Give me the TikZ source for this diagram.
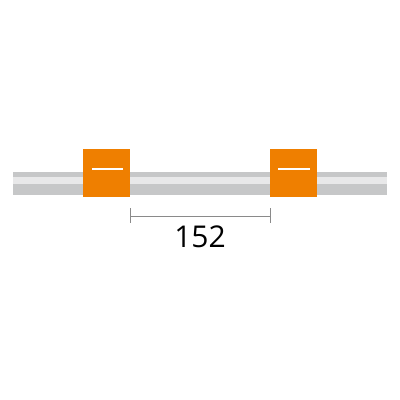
\documentclass[tikz,border=0pt]{standalone}
\usepackage{fontspec}
\setmainfont{Open Sans}
\definecolor{tubegray}{HTML}{C6C7C8}
\definecolor{tubelight}{HTML}{E8E8E9}
\definecolor{tagorange}{HTML}{EF7F00}
\definecolor{dimgray}{HTML}{8A8A8A}
\tikzset{
  tagbox/.style={fill=tagorange, draw=none, minimum width=47pt, minimum height=48pt, inner sep=0pt},
  tagline/.style={draw=white, line width=1.6pt},
  dimline/.style={draw=dimgray, line width=0.7pt}
}
\begin{document}
\begin{tikzpicture}[x=1pt,y=-1pt]
\useasboundingbox[fill=white] (0,0) rectangle (400,400);
% tube
\fill[tubegray] (13,172) rectangle (387,195);
\fill[tubelight] (13,177) rectangle (387,184);
% tags
\node[tagbox] (t1) at (106.5,173) {};
\node[tagbox] (t2) at (293.5,173) {};
\draw[tagline] (92,169) -- (123,169);
\draw[tagline] (278,169) -- (310,169);
% dimension
\coordinate (d1) at (130,216.5);
\coordinate (d2) at (270,216.5);
\draw[dimline] (d1) -- (d2);
\draw[dimline] (130,208) -- (130,223);
\draw[dimline] (270,208) -- (270,223);
\node[font=\fontsize{30}{30}\selectfont, text=black, inner sep=0pt] (lbl) at (200,237) {152};
\end{tikzpicture}
\end{document}
